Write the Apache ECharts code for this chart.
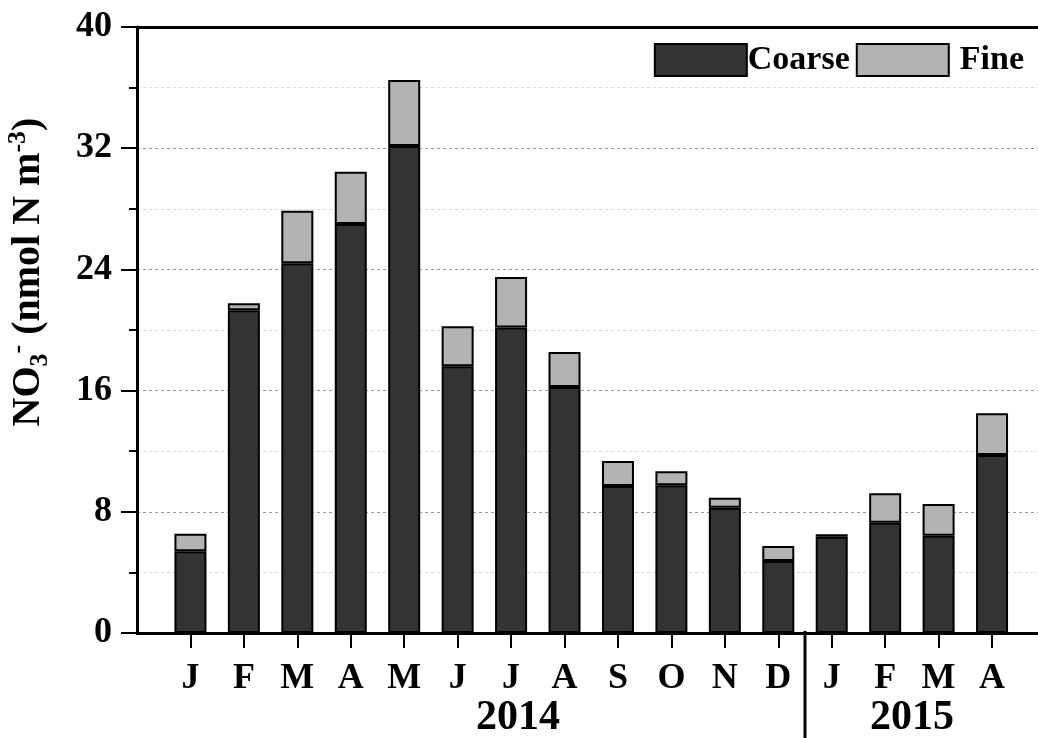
<!DOCTYPE html>
<html>
<head>
<meta charset="utf-8">
<script src="https://cdn.jsdelivr.net/npm/echarts@6/dist/echarts.min.js"></script>
<style>
  html, body { margin: 0; padding: 0; background: #fff; }
  #chart { width: 1038px; height: 738px; }
</style>
</head>
<body>
<div id="chart"></div>
<script>
// months Jan 2014 .. Apr 2015
var months = ['J','F','M','A','M','J','J','A','S','O','N','D','J','F','M','A'];
var coarse = [5.4, 21.3, 24.4, 27.0, 32.15, 17.6, 20.17, 16.23, 9.7, 9.75, 8.27, 4.75, 6.36, 7.28, 6.42, 11.75];
var fine   = [1.15, 0.46, 3.47, 3.44, 4.35, 2.64, 3.33, 2.31, 1.65, 0.92, 0.66, 1.0, 0.15, 1.94, 2.09, 2.75];
var years = ['2014', '2015'];
var yearCenter = [7.13, 14.5];   // x position of year labels (axis units)
var yearBreak = 12.5;            // between Dec 2014 and Jan 2015

var FONT = '"Liberation Serif", "Times New Roman", serif';
var XMAX = 16.86;
var positions = months.map(function (m, i) { return i + 1; });

var chart = echarts.init(document.getElementById('chart'));

// frame: axes, ticks, labels, grid lines
var option = {
  backgroundColor: '#fff',
  animation: false,
  grid: [
    { left: 137, top: 27, right: 0, bottom: 105 },
    { left: 137, top: 27, right: 0, bottom: 105 }
  ],
  legend: {
    right: 9, top: 38,
    itemWidth: 92, itemHeight: 32, itemGap: 6,
    icon: 'rect',
    textStyle: {
      fontFamily: FONT, fontWeight: 'bold', fontSize: 34, color: '#000', padding: [0, 0, 0, -4],
      rich: { f: { fontFamily: FONT, fontWeight: 'bold', fontSize: 34, color: '#000', padding: [0, 0, 0, 10] } }
    },
    formatter: function (name) { return name === 'Fine' ? '{f|' + name + '}' : name; },
    data: ['Coarse', 'Fine']
  },
  xAxis: [{
    type: 'value',
    gridIndex: 0,
    min: 0, max: XMAX,
    interval: 1,
    axisLine: { lineStyle: { color: '#000', width: 3 } },
    axisTick: { show: true, length: 15, lineStyle: { color: '#000', width: 2 }, customValues: positions },
    axisLabel: {
      customValues: positions,
      margin: 28,
      fontFamily: FONT, fontWeight: 'bold', fontSize: 36, color: '#000',
      formatter: function (v) { return months[Math.round(v) - 1] || ''; }
    },
    splitLine: { show: false }
  }, {
    type: 'value',
    gridIndex: 0,
    position: 'top',
    min: 0, max: XMAX,
    axisLine: { show: true, lineStyle: { color: '#000', width: 3 } },
    axisTick: { show: false },
    axisLabel: { show: false },
    splitLine: { show: false }
  }, {
    type: 'category',
    gridIndex: 1,
    data: months,
    show: false
  }],
  yAxis: [{
    type: 'value',
    gridIndex: 0,
    min: 0, max: 40, interval: 8,
    axisLine: { show: true, lineStyle: { color: '#000', width: 3 } },
    axisTick: { show: true, length: 16, lineStyle: { color: '#000', width: 2 } },
    minorTick: { show: true, splitNumber: 2, length: 8, lineStyle: { color: '#000', width: 2 } },
    axisLabel: { margin: 25, fontFamily: FONT, fontWeight: 'bold', fontSize: 36, color: '#000' },
    splitLine: { show: true, lineStyle: { color: '#999', width: 1, type: [3, 3] } },
    minorSplitLine: { show: true, lineStyle: { color: '#d9d9d9', width: 1, type: [3, 3] } }
  }, {
    type: 'value',
    gridIndex: 1,
    min: 0, max: 40,
    show: false,
    splitLine: { show: false }
  }],
  series: []
};
chart.setOption(option);

// bar grid: category bands centred on 1..16 of the value axis
var bandL = chart.convertToPixel({ xAxisIndex: 0 }, 0.5);
var bandR = chart.convertToPixel({ xAxisIndex: 0 }, months.length + 0.5);

var barStyle = { borderColor: '#000', borderWidth: 2 };
chart.setOption({
  grid: [{}, { left: bandL, right: 1038 - bandR }],
  series: [{
    name: 'Coarse',
    type: 'bar',
    xAxisIndex: 2, yAxisIndex: 1,
    stack: 'no3',
    barWidth: 32,
    itemStyle: Object.assign({ color: '#333333' }, barStyle),
    data: coarse
  }, {
    name: 'Fine',
    type: 'bar',
    xAxisIndex: 2, yAxisIndex: 1,
    stack: 'no3',
    barWidth: 32,
    itemStyle: Object.assign({ color: '#b3b3b3' }, barStyle),
    data: fine
  }]
});

// year labels, year separator and rotated y axis title
var base = chart.convertToPixel({ xAxisIndex: 0, yAxisIndex: 0 }, [yearBreak, 0]);
var graphics = [{
  type: 'line',
  shape: { x1: base[0], y1: base[1] - 2, x2: base[0], y2: 738 },
  style: { stroke: '#000', lineWidth: 3 },
  z: 10
}];
years.forEach(function (y, i) {
  var p = chart.convertToPixel({ xAxisIndex: 0, yAxisIndex: 0 }, [yearCenter[i], 0]);
  graphics.push({
    type: 'text',
    x: p[0], y: 718,
    style: {
      text: y, fontFamily: FONT, fontWeight: 'bold', fontSize: 42, fill: '#000',
      align: 'center', verticalAlign: 'middle'
    }
  });
});
graphics.push({
  type: 'text',
  x: 29, y: 272,
  rotation: Math.PI / 2,
  style: {
    text: '{n|NO}{sub|3}{sup|-}{n| (nmol N m}{sup|-3}{n|)}',
    align: 'center', verticalAlign: 'middle',
    rich: {
      n: { fontFamily: FONT, fontWeight: 'bold', fontSize: 40, fill: '#000', lineHeight: 48, verticalAlign: 'middle' },
      sub: { fontFamily: FONT, fontWeight: 'bold', fontSize: 26, fill: '#000', lineHeight: 48, verticalAlign: 'bottom' },
      sup: { fontFamily: FONT, fontWeight: 'bold', fontSize: 26, fill: '#000', lineHeight: 48, verticalAlign: 'top' }
    }
  }
});
chart.setOption({ graphic: graphics });
</script>
</body>
</html>
